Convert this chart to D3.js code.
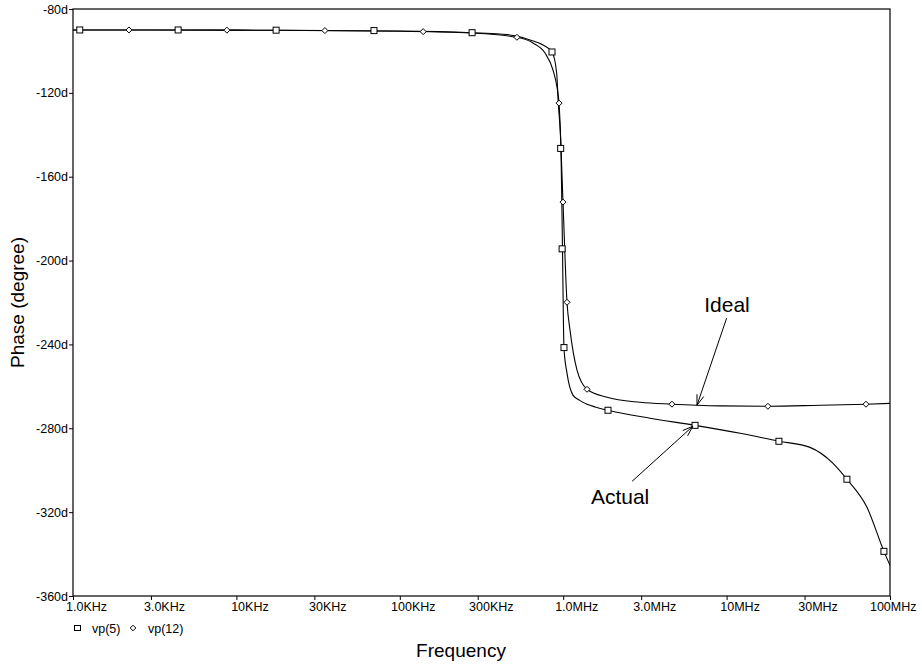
<!DOCTYPE html>
<html><head><meta charset="utf-8">
<script src="https://cdn.jsdelivr.net/npm/d3@7"></script>
<style>body{margin:0;background:#fff}svg{display:block}text{font-family:"Liberation Sans",Arial,sans-serif;fill:#000}</style>
</head><body><svg id="c" width="922" height="666"></svg>
<script>
// ---- data (frequency in Hz, phase in degrees) ----
const xTickValues = [1e3,3e3,1e4,3e4,1e5,3e5,1e6,3e6,1e7,3e7,1e8];
const xTickLabels = ["1.0KHz","3.0KHz","10KHz","30KHz","100KHz","300KHz","1.0MHz","3.0MHz","10MHz","30MHz","100MHz"];
const yTickValues = [-80,-120,-160,-200,-240,-280,-320,-360];
const yTickLabels = ["-80d","-120d","-160d","-200d","-240d","-280d","-320d","-360d"];

// vp(5) "Actual"
const actualFreq  = [1e3, 1e4, 1e5, 2.77e5, 4.1e5, 5.21e5, 6.27e5, 7.52e5, 8.54e5, 9.12e5, 9.33e5, 9.69e5, 9.9e5, 1.011e6, 1.055e6, 1.148e6, 1.267e6, 1.40e6, 1.565e6, 1.88e6, 3.4e6, 6.41e6, 1.21e7, 2.09e7, 3.24e7, 4.48e7, 5.45e7, 7.23e7, 9.18e7, 1e8];
const actualPhase = [-90.0, -90.1, -90.5, -91.3, -91.9, -92.9, -94.8, -97.2, -100.5, -110.5, -125.0, -146.8, -194.6, -241.8, -253.7, -264.2, -266.8, -268.5, -269.8, -271.4, -275.2, -278.6, -282.4, -286.2, -289.1, -296.7, -304.3, -317.7, -338.7, -345.4];
const actualMarkFreq  = [1.1e3, 4.4e3, 1.75e4, 6.95e4, 2.77e5, 8.54e5, 9.65e5, 9.85e5, 1.011e6, 1.88e6, 6.41e6, 2.09e7, 5.45e7, 9.18e7];
const actualMarkPhase = [-90.0, -90.0, -90.1, -90.3, -91.3, -100.5, -146.5, -194.4, -241.5, -271.4, -278.6, -286.2, -304.3, -338.7];

// vp(12) "Ideal"
const idealFreq  = [1e3, 1e4, 1e5, 2.77e5, 5.21e5, 6.53e5, 7.74e5, 8.66e5, 9.16e5, 9.43e5, 9.97e5, 1.055e6, 1.101e6, 1.215e6, 1.399e6, 1.854e6, 2.951e6, 4.63e6, 9.12e6, 1.79e7, 3.73e7, 7.13e7, 1e8];
const idealPhase = [-90.0, -90.1, -90.6, -91.5, -93.5, -96.2, -101.0, -109.1, -117.2, -124.9, -172.1, -219.9, -233.2, -252.3, -261.4, -265.2, -267.6, -268.5, -269.3, -269.5, -269.0, -268.5, -268.1];
const idealMarkFreq  = [2.2e3, 8.75e3, 3.48e4, 1.39e5, 5.21e5, 9.43e5, 9.97e5, 1.055e6, 1.399e6, 4.63e6, 1.79e7, 7.13e7];
const idealMarkPhase = [-90.0, -90.1, -90.3, -90.8, -93.5, -124.9, -172.1, -219.9, -261.4, -268.5, -269.5, -268.5];

// annotations
const annoLabels = ["Ideal","Actual"];
const annoText   = [[1.006e7,-224.6],[2.23e6,-316.3]];
const annoFrom   = [[1.0e7,-227.5],[2.64e6,-305.3]];
const annoTo     = [[6.59e6,-269.0],[6.22e6,-279.0]];

const seriesNames = ["vp(5)","vp(12)"];

// ---- drawing ----
const W=922, H=666;
const svg = d3.select("#c");
const L=73, R=890, T=9, B=596;
const x = d3.scaleLog().domain([1e3,1e8]).range([L,R]);
const y = d3.scaleLinear().domain([-360,-80]).range([B,T]);

// frame
svg.append("rect").attr("x",L).attr("y",T).attr("width",R-L).attr("height",B-T)
  .attr("fill","none").attr("stroke","#000").attr("stroke-width",1.2);

// axes
const xAxis = d3.axisBottom(x).tickValues(xTickValues).tickFormat((d,i)=>xTickLabels[i]).tickSizeOuter(0).tickSize(4).tickPadding(2);
const gx = svg.append("g").attr("transform",`translate(0,${B})`).call(xAxis);
const yAxis = d3.axisLeft(y).tickValues(yTickValues).tickFormat((d,i)=>yTickLabels[i]).tickSizeOuter(0).tickSize(4).tickPadding(1);
const gy = svg.append("g").attr("transform",`translate(${L},0)`).call(yAxis);
[gx,gy].forEach(g=>{
  g.select(".domain").remove();
  g.selectAll("line").attr("stroke","#000");
  g.selectAll("text").style("font-family","'Liberation Sans',Arial,sans-serif").style("font-size","12.5px").attr("fill","#000");
});
// x labels sit slightly right of their ticks, last one kept inside the page
gx.selectAll(".tick text").each(function(d){
  const t=d3.select(this);
  const w=this.getComputedTextLength();
  const cx=Math.min(x(d)+13, W-6-w/2);
  t.attr("x", cx - x(d));
});

// lines
const line = d3.line().x(d=>x(d[0])).y(d=>y(d[1])).curve(d3.curveMonotoneX);
const actual = actualFreq.map((f,i)=>[f,actualPhase[i]]);
const ideal  = idealFreq.map((f,i)=>[f,idealPhase[i]]);
svg.append("path").attr("d",line(ideal)).attr("fill","none").attr("stroke","#000").attr("stroke-width",1.1);
svg.append("path").attr("d",line(actual)).attr("fill","none").attr("stroke","#000").attr("stroke-width",1.1);

// markers
const sq = svg.append("g");
actualMarkFreq.forEach((f,i)=>{
  sq.append("rect").attr("x",x(f)-3).attr("y",y(actualMarkPhase[i])-3).attr("width",6).attr("height",6)
    .attr("fill","#fff").attr("stroke","#000").attr("stroke-width",1);
});
const dm = svg.append("g");
const diamond = (cx,cy,r)=>`M${cx},${cy-r}L${cx+r},${cy}L${cx},${cy+r}L${cx-r},${cy}Z`;
idealMarkFreq.forEach((f,i)=>{
  dm.append("path").attr("d",diamond(x(f),y(idealMarkPhase[i]),3))
    .attr("fill","#fff").attr("stroke","#000").attr("stroke-width",1);
});

// annotations
annoLabels.forEach((lab,i)=>{
  svg.append("text").attr("x",x(annoText[i][0])).attr("y",y(annoText[i][1]))
    .attr("text-anchor","middle").style("font-size","21px").text(lab);
  const x1=x(annoFrom[i][0]), y1=y(annoFrom[i][1]), x2=x(annoTo[i][0]), y2=y(annoTo[i][1]);
  svg.append("line").attr("x1",x1).attr("y1",y1).attr("x2",x2).attr("y2",y2).attr("stroke","#000").attr("stroke-width",1);
  const ang=Math.atan2(y1-y2,x1-x2), len=11, sp=0.33;
  [ang-sp,ang+sp].forEach(a=>{
    svg.append("line").attr("x1",x2).attr("y1",y2).attr("x2",x2+len*Math.cos(a)).attr("y2",y2+len*Math.sin(a))
      .attr("stroke","#000").attr("stroke-width",1);
  });
});

// legend
const lg = svg.append("g");
lg.append("rect").attr("x",74.5).attr("y",625.5).attr("width",6).attr("height",5).attr("fill","#fff").attr("stroke","#000");
lg.append("text").attr("x",92).attr("y",633).style("font-size","12.5px").text(seriesNames[0]);
lg.append("path").attr("d",diamond(133,628,2.8)).attr("fill","#fff").attr("stroke","#000");
lg.append("text").attr("x",148).attr("y",633).style("font-size","12.5px").text(seriesNames[1]);

// axis titles
svg.append("text").attr("x",W/2).attr("y",657).attr("text-anchor","middle").style("font-size","19px").text("Frequency");
svg.append("text").attr("transform",`translate(24,${(T+B)/2}) rotate(-90)`).attr("text-anchor","middle").style("font-size","19px").text("Phase (degree)");
</script></body></html>
